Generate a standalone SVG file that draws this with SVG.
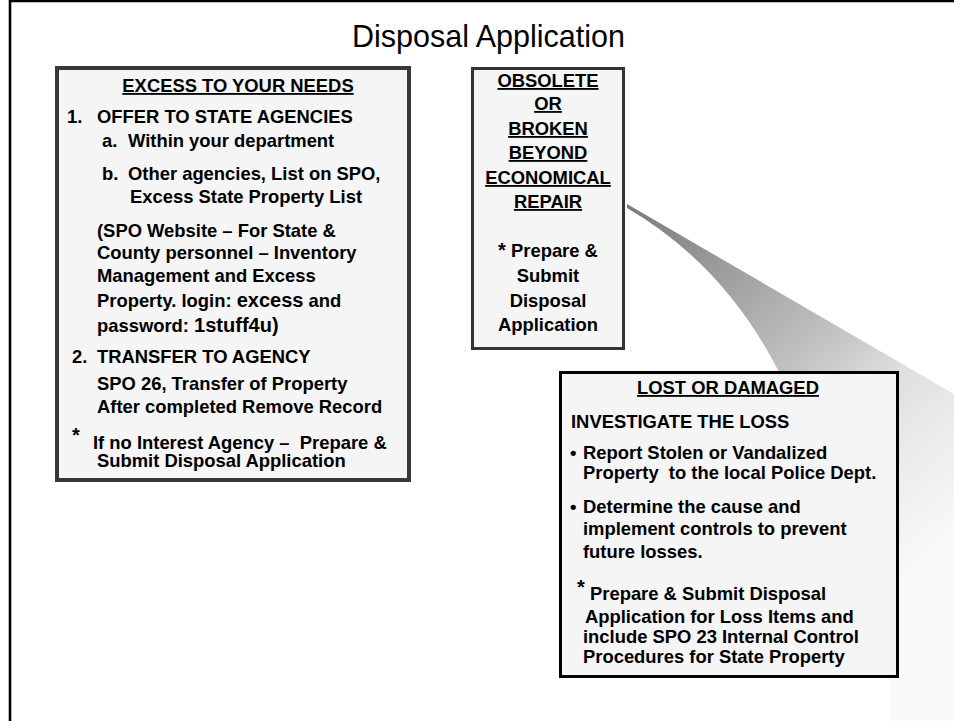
<svg xmlns="http://www.w3.org/2000/svg" width="954" height="721" viewBox="0 0 954 721">
<defs>
<linearGradient id="wedgeGrad" gradientUnits="userSpaceOnUse" x1="627" y1="205" x2="940" y2="560">
<stop offset="0" stop-color="#7a7a7a"/>
<stop offset="0.47" stop-color="#bfbfbf"/>
<stop offset="0.64" stop-color="#dedede"/>
<stop offset="0.8" stop-color="#ececec"/>
<stop offset="1" stop-color="#fafafa"/>
</linearGradient>
</defs>
<style>
text{font-family:"Liberation Sans",Arial,Helvetica,sans-serif;fill:#000}
.t{font-size:18.4px;font-weight:bold}
.u{text-decoration:underline}
.c{text-anchor:middle}
.box{fill:#f5f5f5}
.big{font-size:20px}
</style>
<rect width="954" height="721" fill="#ffffff"/>
<path d="M10,721 L10,1 L954,1" fill="none" stroke="#000" stroke-width="2.6"/>
<text x="488.5" y="47" class="c" style="font-size:30.5px">Disposal Application</text>

<g id="connectors">
<path d="M627,204 L954,394 L954,721 L890,721 L890,600 L780,374 Q725,265 627,208 Z" fill="url(#wedgeGrad)"/>
<path d="M627,209 Q724,267 779,376" fill="none" stroke="#ffffff" stroke-width="1" opacity="0.8"/>
</g>

<g id="excess">
<rect class="box" x="57" y="68" width="352" height="412" stroke="#383838" stroke-width="4"/>
<text class="t u c" x="238" y="92">EXCESS TO YOUR NEEDS</text>
<text class="t" x="67" y="123">1.</text>
<text class="t" x="97" y="123">OFFER TO STATE AGENCIES</text>
<text class="t" x="102" y="147">a.</text>
<text class="t" x="128" y="147">Within your department</text>
<text class="t" x="102" y="180">b.</text>
<text class="t" x="128" y="180">Other agencies, List on SPO,</text>
<text class="t" x="130" y="203">Excess State Property List</text>
<text class="t" x="97" y="237">(SPO Website – For State &amp;</text>
<text class="t" x="97" y="259">County personnel – Inventory</text>
<text class="t" x="97" y="282">Management and Excess</text>
<text class="t" x="97" y="307">Property. login: <tspan class="big">excess</tspan> and</text>
<text class="t" x="97" y="332">password: <tspan class="big">1stuff4u)</tspan></text>
<text class="t" x="72" y="363">2.</text>
<text class="t" x="97" y="363">TRANSFER TO AGENCY</text>
<text class="t" x="97" y="390">SPO 26, Transfer of Property</text>
<text class="t" x="97" y="413">After completed Remove Record</text>
<text class="t" x="72" y="442" style="font-size:20px">*</text>
<text class="t" x="93" y="449">If no Interest Agency –&#160; Prepare &amp;</text>
<text class="t" x="97" y="467">Submit Disposal Application</text>
</g>

<g id="obsolete">
<rect class="box" x="472.5" y="68.5" width="151" height="280" stroke="#333333" stroke-width="3"/>
<text class="t u c" x="548" y="87">OBSOLETE</text>
<text class="t u c" x="548" y="110">OR</text>
<text class="t u c" x="548" y="135">BROKEN</text>
<text class="t u c" x="548" y="159">BEYOND</text>
<text class="t u c" x="548" y="184">ECONOMICAL</text>
<text class="t u c" x="548" y="208">REPAIR</text>
<text class="t c" x="548" y="257"><tspan style="font-size:20px">*</tspan> Prepare &amp;</text>
<text class="t c" x="548" y="282">Submit</text>
<text class="t c" x="548" y="307">Disposal</text>
<text class="t c" x="548" y="331">Application</text>
</g>

<g id="lost">
<rect class="box" x="560.5" y="372.5" width="337" height="304" stroke="#000000" stroke-width="3"/>
<text class="t u c" x="728" y="394">LOST OR DAMAGED</text>
<text class="t" x="571" y="428">INVESTIGATE THE LOSS</text>
<text class="t" x="570" y="459">•</text>
<text class="t" x="583" y="459">Report Stolen or Vandalized</text>
<text class="t" x="583" y="479">Property&#160; to the local Police Dept.</text>
<text class="t" x="570" y="513">•</text>
<text class="t" x="583" y="513">Determine the cause and</text>
<text class="t" x="583" y="535">implement controls to prevent</text>
<text class="t" x="583" y="558">future losses.</text>
<text class="t" x="577" y="594" style="font-size:20px">*</text>
<text class="t" x="590" y="600">Prepare &amp; Submit Disposal</text>
<text class="t" x="585" y="623">Application for Loss Items and</text>
<text class="t" x="583" y="643">include SPO 23 Internal Control</text>
<text class="t" x="583" y="663">Procedures for State Property</text>
</g>
</svg>
